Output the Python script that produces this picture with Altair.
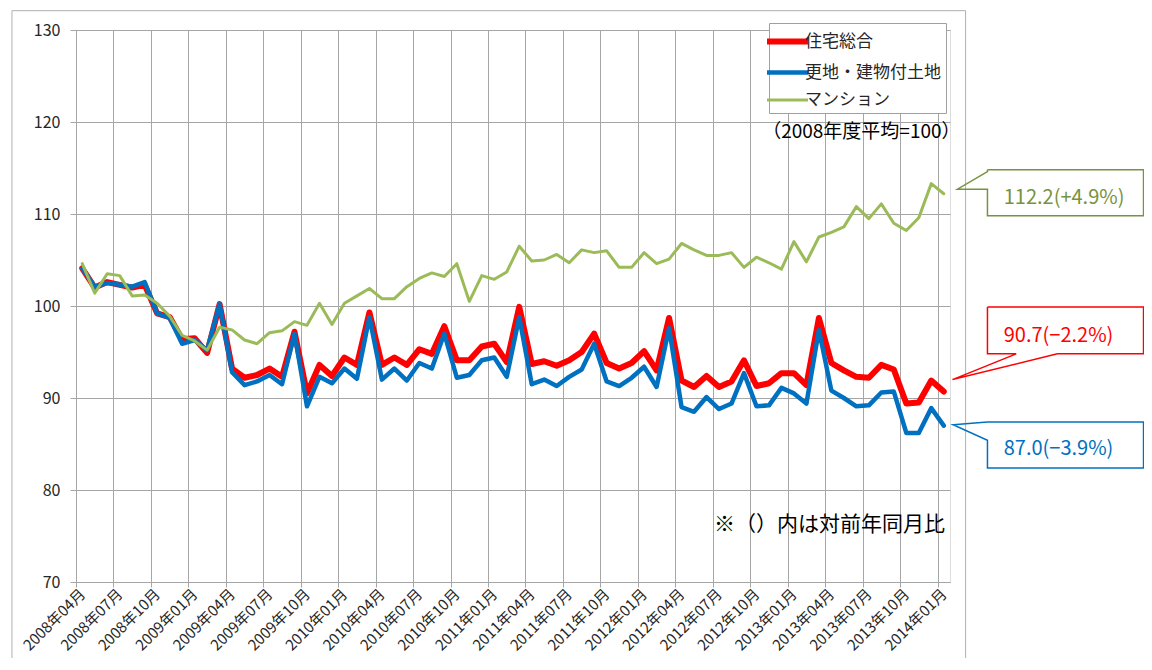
import json
import altair as alt
import pandas as pd

FONT = "Noto Sans CJK JP"

# ---- categories ----
months = [f"{2008 + (3 + i) // 12}年{(3 + i) % 12 + 1:02d}月" for i in range(70)]
tick_labels = months[::3]

S_TOTAL = "住宅総合"
S_LAND = "更地・建物付土地"
S_CONDO = "マンション"
series_names = [S_TOTAL, S_LAND, S_CONDO]
series_colors = ["#FF0000", "#0070C0", "#9BBB59"]
series_widths = [6, 3, 3.2]

# ---- series values ----
total = [104.1, 102.0, 102.6, 102.3, 102.0, 102.3, 99.2, 98.8, 96.4, 96.5,
         94.9, 100.2, 93.2, 92.2, 92.5, 93.2, 92.3, 97.2, 90.5, 93.6,
         92.4, 94.4, 93.6, 99.3, 93.6, 94.4, 93.6, 95.3, 94.8, 97.8,
         94.1, 94.1, 95.6, 95.9, 93.9, 99.9, 93.7, 94.0, 93.5, 94.1,
         95.0, 97.0, 93.8, 93.2, 93.8, 95.1, 93.0, 98.7, 91.9, 91.2,
         92.4, 91.2, 91.8, 94.1, 91.3, 91.6, 92.7, 92.7, 91.4, 98.7,
         93.8, 93.0, 92.3, 92.2, 93.6, 93.1, 89.4, 89.5, 91.9, 90.7]
land = [104.1, 102.1, 102.5, 102.3, 102.1, 102.6, 99.2, 98.7, 95.9, 96.3,
        95.2, 100.2, 92.8, 91.4, 91.8, 92.5, 91.5, 97.0, 89.1, 92.3,
        91.6, 93.2, 92.1, 98.8, 92.0, 93.2, 91.9, 93.8, 93.2, 97.0,
        92.2, 92.5, 94.1, 94.4, 92.3, 98.8, 91.5, 92.0, 91.3, 92.3,
        93.1, 95.9, 91.8, 91.3, 92.2, 93.4, 91.2, 97.6, 89.0, 88.5,
        90.1, 88.8, 89.4, 92.7, 89.1, 89.2, 91.1, 90.5, 89.4, 97.4,
        90.8, 90.0, 89.1, 89.2, 90.6, 90.7, 86.2, 86.2, 88.9, 87.0]
condo = [104.6, 101.4, 103.5, 103.3, 101.1, 101.2, 100.3, 98.9, 96.8, 96.2,
         95.2, 97.7, 97.4, 96.3, 95.9, 97.1, 97.3, 98.3, 97.9, 100.3,
         98.0, 100.3, 101.1, 101.9, 100.8, 100.8, 102.1, 103.0, 103.6, 103.2,
         104.6, 100.5, 103.3, 102.9, 103.7, 106.5, 104.9, 105.0, 105.6, 104.7,
         106.1, 105.8, 106.0, 104.2, 104.2, 105.8, 104.6, 105.1, 106.8, 106.1,
         105.5, 105.5, 105.8, 104.2, 105.3, 104.7, 104.0, 107.0, 104.8, 107.5,
         108.0, 108.6, 110.8, 109.5, 111.1, 109.0, 108.2, 109.6, 113.3, 112.2]

callout_texts = ["112.2(+4.9%)", "90.7(−2.2%)", "87.0(−3.9%)"]
callout_colors = ["#77933C", "#FF0000", "#0070C0"]

rows = []
for name, vals in zip(series_names, [total, land, condo]):
    for i, (m, v) in enumerate(zip(months, vals)):
        rows.append({"idx": i, "month": m, "series": name, "value": v})
df = pd.DataFrame(rows)

# ---- annotation geometry in data units (index, index value) ----
callout_shapes = [
    [(72.5, 114.8), (85.0, 114.8), (85.0, 109.8), (72.5, 109.8), (72.5, 112.7),
     (70.1, 112.7), (72.5, 114.6), (72.5, 114.8)],
    [(72.5, 99.9), (85.0, 99.9), (85.0, 94.8), (78.1, 94.8), (69.7, 92.0),
     (74.8, 94.8), (72.5, 94.8), (72.5, 99.9)],
    [(72.5, 87.4), (85.0, 87.4), (85.0, 82.4), (72.5, 82.4), (72.5, 85.4),
     (69.75, 87.1), (72.5, 87.4)],
]
callout_text_pos = [(73.8, 111.75), (73.8, 96.75), (73.8, 84.5)]

shape_rows = []
for k, pts in enumerate(callout_shapes):
    for j, (x, y) in enumerate(pts):
        shape_rows.append({"g": k, "o": j, "x": x, "y": y, "c": callout_colors[k]})
shape_df = pd.DataFrame(shape_rows)
text_df = pd.DataFrame({
    "x": [p[0] for p in callout_text_pos],
    "y": [p[1] for p in callout_text_pos],
    "t": callout_texts,
    "c": callout_colors,
})

frame_df = pd.DataFrame({"x": [-5.63], "x2": [70.75], "y": [132.1], "y2": [55.0]})
note_df = pd.DataFrame({"x": [69.1], "y": [76.2], "t": ["※（）内は対前年同月比"]})
base_df = pd.DataFrame({"x": [62.4], "y": [118.9], "t": ["（2008年度平均=100）"]})

# ---- scales / axes ----
xscale = alt.Scale(domain=[-0.5, 69.5], nice=False, zero=False)
yscale = alt.Scale(domain=[70, 130], nice=False, zero=False)
boundaries = [3 * k - 0.5 for k in range(24)]
label_expr = json.dumps(tick_labels, ensure_ascii=False) + "[round((datum.value + 0.5) / 3)]"

GRID = "#A6A6A6"
xaxis = alt.Axis(values=boundaries, labelExpr=label_expr, grid=True, gridColor=GRID,
                 gridWidth=1, domainColor=GRID, tickColor=GRID, tickSize=5,
                 labelAngle=-45, labelAlign="right", labelBaseline="middle",
                 labelOffset=6.24, labelPadding=4, labelOverlap=False,
                 labelFont=FONT, labelFontSize=15, labelColor="#262626", title=None)
yaxis = alt.Axis(values=[70, 80, 90, 100, 110, 120, 130], grid=True, gridColor=GRID,
                 gridWidth=1, domainColor=GRID, tickColor=GRID, tickSize=6,
                 labelPadding=10, labelFont=FONT, labelFontSize=16,
                 labelColor="#262626", title=None)

legend = alt.Legend(title=None, orient="none", legendX=693, legendY=-7,
                    symbolType="M-2,0H2", symbolSize=420, labelFont=FONT,
                    labelFontSize=17, labelColor="#262626", labelLimit=400,
                    fillColor="white", strokeColor="#A0A0A0", padding=5,
                    rowPadding=6, labelOffset=4)

color_enc = alt.Color("series:N", scale=alt.Scale(domain=series_names, range=series_colors),
                      legend=legend)
width_enc = alt.StrokeWidth("series:N", scale=alt.Scale(domain=series_names, range=series_widths),
                            legend=legend)

X = lambda f: alt.X(f, scale=xscale, axis=xaxis)
Y = lambda f: alt.Y(f, scale=yscale, axis=yaxis)

base = alt.Chart(df).mark_line(strokeJoin="round", strokeCap="round").encode(
    x=X("idx:Q"),
    y=Y("value:Q"),
    color=color_enc,
    strokeWidth=width_enc,
)
lines = [base.transform_filter(alt.datum.series == s) for s in series_names]

frame = alt.Chart(frame_df).mark_rect(fill=None, stroke="#B0B0B0", strokeWidth=1).encode(
    x=X("x:Q"), x2="x2:Q", y=Y("y:Q"), y2="y2:Q",
)

shapes = alt.Chart(shape_df).mark_line(strokeWidth=1.5, strokeJoin="miter").encode(
    x=X("x:Q"), y=Y("y:Q"),
    detail="g:N",
    order="o:Q",
    stroke=alt.Stroke("c:N", scale=None),
)

texts = alt.Chart(text_df).mark_text(align="left", baseline="middle", font=FONT,
                                     fontSize=20).encode(
    x=X("x:Q"), y=Y("y:Q"),
    text="t:N",
    color=alt.Color("c:N", scale=None),
)

note = alt.Chart(note_df).mark_text(align="right", baseline="middle", font=FONT,
                                    fontSize=21, color="#000000").encode(
    x=X("x:Q"), y=Y("y:Q"), text="t:N",
)

basenote = alt.Chart(base_df).mark_text(align="center", baseline="middle", font=FONT,
                                        fontSize=19, color="#000000").encode(
    x=X("x:Q"), y=Y("y:Q"), text="t:N",
)

chart = alt.layer(frame, *lines, shapes, texts, note, basenote).properties(
    width=874, height=552,
    autosize=alt.AutoSizeParams(type="none"),
    padding={"left": 68, "top": 22, "right": 194, "bottom": 76},
).configure_view(stroke=None).configure(font=FONT)

chart.save("out.html", embed_options={"renderer": "svg", "actions": False})
